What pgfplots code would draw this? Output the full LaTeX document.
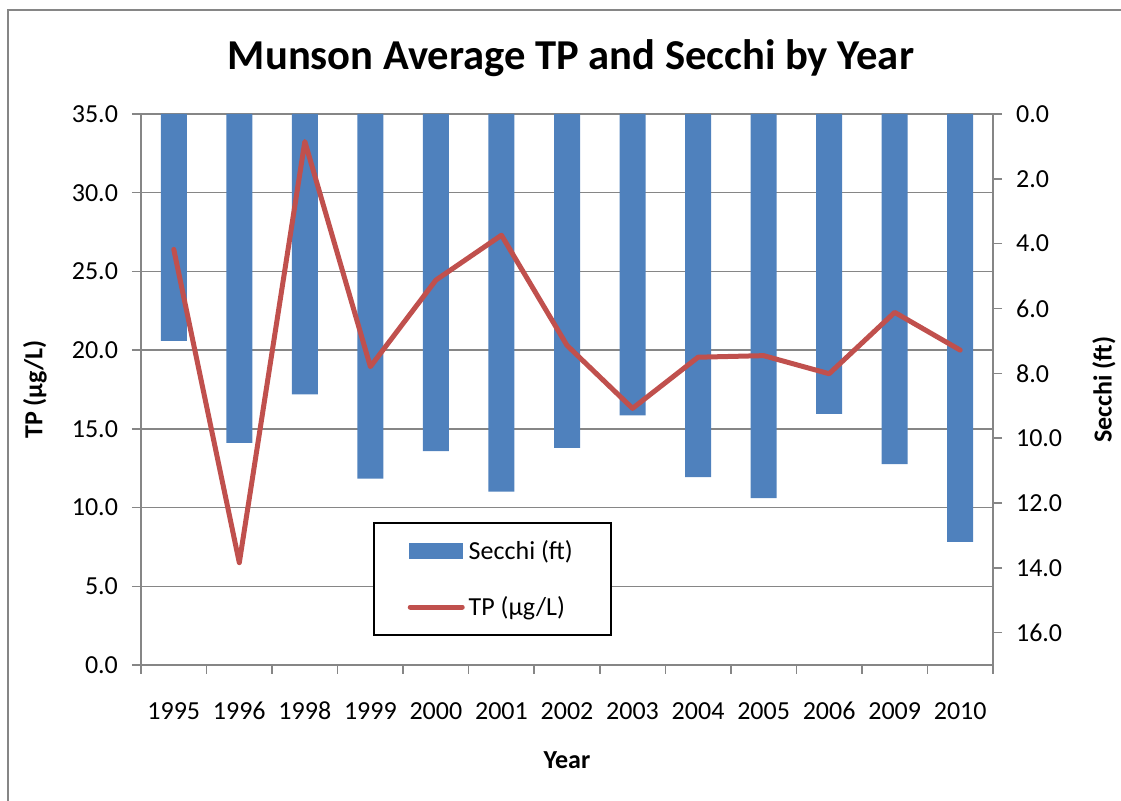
\documentclass[border=0pt]{standalone}
\usepackage{fontspec}
\setmainfont{Carlito}
\usepackage{pgfplots}
\usepackage{pgfplotstable}
\pgfplotsset{compat=1.18}
\definecolor{barblue}{HTML}{4F81BD}
\definecolor{linered}{HTML}{C0504D}
\definecolor{axgray}{HTML}{868686}

\pgfplotstableread{
x secchi tp
0 7.0 26.4
1 10.15 6.5
2 8.65 33.25
3 11.25 18.95
4 10.4 24.45
5 11.65 27.3
6 10.3 20.3
7 9.3 16.3
8 11.2 19.55
9 11.85 19.65
10 9.25 18.5
11 10.8 22.4
12 13.2 20.0
}\data

\pgfplotsset{
  barlegend/.style={legend image code/.code={\fill[barblue] (0pt,-3.5pt) rectangle (26pt,3.5pt);}},
  linelegend/.style={legend image code/.code={\draw[linered, line width=2.5pt, line cap=round] (0pt,0pt) -- (26pt,0pt);}},
}

\begin{document}
\begin{tikzpicture}
\pgfplotsset{
  base/.style={scale only axis, width=426pt, height=275.5pt, xmin=-0.5, xmax=12.5,
    font=\fontsize{13}{15}\selectfont,
    /pgf/number format/assume math mode=true},
}
\useasboundingbox (-70.5pt,-68pt) rectangle (490pt,332.5pt);
\draw[axgray, line width=0.6pt] (-66.5pt,-70pt) -- (-66.5pt,327.5pt) -- (492pt,327.5pt);

% left axis, grid, category boundary ticks
\begin{axis}[base, ymin=0, ymax=35, ytick={0,5,...,35},
  ymajorgrids, grid style={axgray, line width=0.75pt},
  axis line style={axgray, line width=0.75pt},
  xtick={-0.5,0.5,...,12.5}, xticklabels={},
  tick style={axgray, line width=0.75pt}, major tick length=4.5pt, tick align=outside,
  xtick pos=bottom, ytick pos=left,
  yticklabel style={xshift=-3.5pt, /pgf/number format/fixed, /pgf/number format/fixed zerofill, /pgf/number format/precision=1},
  ylabel={\bfseries TP (µg/L)},
  ylabel style={at={(axis description cs:-0.1244,0.5)}, anchor=center},
]
\end{axis}

% right axis with bars
\begin{axis}[base, ymin=0, ymax=17, y dir=reverse,
  axis y line*=right, axis x line=none,
  axis line style={axgray, line width=0.75pt},
  ytick={0,2,...,16},
  tick style={axgray, line width=0.75pt}, major tick length=4.5pt, tick align=outside,
  yticklabel style={xshift=3.5pt, /pgf/number format/fixed, /pgf/number format/fixed zerofill, /pgf/number format/precision=1},
  ylabel={\bfseries Secchi (ft)},
  ylabel style={at={(axis description cs:1.1303,0.5)}, anchor=center},
  ybar, bar width=13pt,
]
\addplot[fill=barblue, draw=none] table[x=x,y=secchi]{\data};
\end{axis}

% line and x labels
\begin{axis}[base, ymin=0, ymax=35,
  axis line style={draw=none}, ytick=\empty,
  xtick={0,...,12},
  xticklabels={1995,1996,1998,1999,2000,2001,2002,2003,2004,2005,2006,2009,2010},
  major tick length=0pt, xticklabel style={yshift=-15pt, text height=8.5pt, text depth=0pt},
  xlabel={\bfseries Year},
  xlabel style={at={(axis description cs:0.5,0)}, anchor=base, yshift=-52pt},
  legend cell align=left,
  legend style={at={(0.272,0.2595)}, anchor=north west, draw=black, line width=1pt,
    fill=white, font=\fontsize{13}{15}\selectfont,
    inner xsep=17pt, inner ysep=6.5pt, row sep=13pt, nodes={inner sep=2pt}},
]
\addlegendimage{barlegend}
\addlegendentry{Secchi (ft)}
\addplot[linered, line width=2.5pt, line join=round, line cap=round, linelegend]
  table[x=x,y=tp]{\data};
\addlegendentry{TP (µg/L)}
\end{axis}

\node[font=\fontsize{21.3}{25}\selectfont\bfseries, anchor=base] at (215pt,297.5pt)
  {Munson Average TP and Secchi by Year};
\end{tikzpicture}
\end{document}
